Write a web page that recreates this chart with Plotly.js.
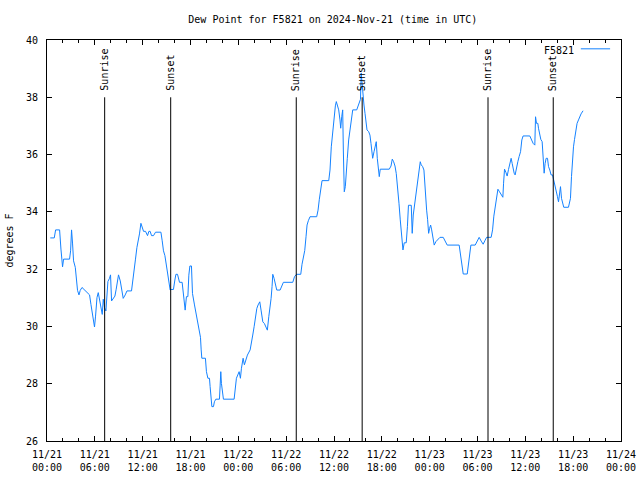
<!DOCTYPE html>
<html>
<head>
<meta charset="utf-8">
<script src="https://cdn.plot.ly/plotly-3.0.1.min.js"></script>
<style>html,body{margin:0;padding:0;background:#fff;}#chart{width:640px;height:480px;}</style>
</head>
<body>
<div id="chart"></div>
<script>
// Hours since 2024-11-21 00:00 UTC
const hours = [0.41,0.91,1.08,1.58,1.75,1.83,1.95,2.08,2.83,2.96,3.08,3.21,3.33,3.55,3.67,3.83,4.01,4.17,4.39,4.80,
5.34,5.51,5.68,5.84,5.96,6.09,6.27,6.43,6.59,6.77,6.93,7.06,7.22,7.39,7.52,7.64,7.84,7.97,8.10,8.27,
8.52,8.68,8.85,8.97,9.19,9.35,9.56,9.81,10.03,10.60,10.78,10.94,11.10,11.28,11.44,11.60,11.78,11.94,12.11,12.36,
12.61,12.78,12.94,13.11,13.36,13.61,14.29,14.45,14.61,14.79,14.95,15.11,15.29,15.45,15.54,15.86,16.04,16.17,16.37,16.62,
16.95,17.12,17.33,17.49,17.67,17.79,17.92,18.12,18.25,18.50,18.71,18.92,19.12,19.25,19.34,19.42,19.87,20.00,20.18,20.38,
20.46,20.59,20.68,20.88,21.00,21.18,21.63,21.72,21.80,21.88,22.01,22.13,23.47,23.60,23.76,24.10,24.26,24.39,24.60,24.76,
24.97,25.14,25.48,25.64,25.81,25.98,26.14,26.32,26.48,26.69,26.85,27.07,27.27,27.48,27.64,27.82,27.98,28.11,28.23,28.32,
28.48,28.65,28.82,29.24,29.45,29.65,30.83,31.05,31.30,31.83,31.99,32.16,32.33,32.49,32.62,32.78,32.99,33.83,34.00,34.16,
34.34,34.50,35.34,35.50,35.66,35.84,36.00,36.17,36.29,36.42,36.59,36.75,36.84,36.97,37.09,37.17,37.29,37.42,37.54,37.67,
37.84,38.01,38.17,38.35,38.85,39.01,39.17,39.32,39.41,39.60,39.76,39.89,40.01,40.14,40.35,40.51,40.64,40.76,40.85,41.02,
41.18,41.30,41.43,41.55,41.68,41.80,42.93,43.15,43.31,43.48,43.65,43.81,43.98,44.15,44.31,44.49,44.65,44.81,45.06,45.21,
45.34,45.69,45.81,45.94,46.07,46.19,46.32,46.44,46.57,46.69,46.82,46.94,47.12,47.28,47.44,47.62,47.74,47.87,47.99,48.12,
48.25,48.37,48.57,48.78,49.04,49.29,49.70,49.91,50.20,51.70,51.88,52.04,52.21,52.71,52.83,53.01,53.17,53.71,53.96,54.21,
54.46,54.71,54.92,55.14,55.71,55.89,56.05,56.22,56.39,56.56,56.72,56.89,57.06,57.18,57.27,57.39,57.56,57.72,57.89,58.06,
58.22,58.35,58.47,58.60,58.72,58.90,59.06,59.22,59.40,59.56,59.72,60.56,60.73,60.98,61.19,61.28,61.40,61.57,61.65,61.78,
61.94,62.11,62.19,62.28,62.36,62.48,62.61,62.78,62.91,63.07,63.23,63.41,63.57,63.73,63.91,64.03,64.16,64.29,64.41,64.54,
64.66,64.82,65.41,65.54,65.66,65.79,65.91,66.04,66.17,66.33,66.49,66.67,66.83,66.99,67.24];

const dewPoint = [33.09,33.09,33.37,33.37,32.70,32.29,32.08,32.35,32.35,32.64,33.37,32.88,32.29,32.06,31.59,31.26,31.10,31.26,31.36,31.24,
31.10,30.77,30.42,30.09,29.98,30.36,31.01,31.18,30.89,30.63,30.42,30.95,30.65,30.54,31.01,31.57,31.68,31.80,30.89,30.95,
31.06,31.30,31.59,31.80,31.59,31.24,30.98,31.10,31.24,31.24,31.71,32.06,32.35,32.76,32.94,33.23,33.60,33.46,33.32,33.32,
33.17,33.32,33.32,33.17,33.17,33.29,33.29,32.99,32.64,32.47,32.18,31.85,31.53,31.27,31.29,31.29,31.62,31.82,31.82,31.54,
31.54,31.04,30.57,31.04,31.04,31.79,32.11,32.11,31.15,30.75,30.46,30.16,29.93,29.62,29.18,28.89,28.89,28.42,28.19,28.19,
27.90,27.43,27.20,27.20,27.37,27.46,27.46,27.95,28.42,28.01,27.60,27.46,27.46,27.72,28.19,28.42,28.19,28.54,28.89,28.66,
28.89,29.00,29.18,29.52,29.70,29.99,30.34,30.63,30.75,30.86,30.57,30.16,30.10,29.97,29.87,30.34,30.63,30.98,31.39,31.82,
31.68,31.50,31.27,31.27,31.41,31.54,31.54,31.74,31.82,31.82,32.17,32.45,32.65,33.13,33.54,33.69,33.83,33.83,34.06,34.44,
34.76,35.09,35.09,35.46,36.27,36.88,37.44,37.70,37.85,37.70,37.56,37.21,36.92,37.32,37.56,36.16,34.70,34.88,35.23,35.87,
36.51,36.83,37.15,37.56,37.56,37.70,37.85,37.93,38.85,38.14,37.73,37.44,37.09,36.86,36.80,36.68,36.39,36.16,35.87,36.10,
36.27,36.45,35.87,35.46,35.23,35.49,35.49,35.60,35.84,35.75,35.60,35.34,34.88,34.30,33.72,33.25,32.67,32.92,32.92,33.48,
34.23,34.23,33.25,33.89,34.18,34.47,34.65,35.00,35.35,35.64,35.75,35.64,35.58,35.46,34.65,34.06,33.74,33.25,33.42,33.54,
33.37,33.13,32.84,32.96,33.04,33.11,33.11,32.99,32.84,32.84,32.43,32.14,31.83,31.83,32.14,32.43,32.84,32.84,32.96,33.11,
32.98,32.87,32.99,33.11,33.11,33.37,33.85,34.20,34.50,34.79,34.72,34.65,34.59,34.51,35.00,35.49,35.38,35.25,35.48,35.65,
35.87,35.69,35.46,35.35,35.29,35.58,35.75,35.93,36.10,36.51,36.65,36.65,36.53,36.39,36.33,37.32,37.09,37.09,36.92,36.76,
36.53,36.45,36.16,35.81,35.35,35.69,35.87,35.87,35.58,35.46,35.29,35.29,35.11,34.88,34.76,34.53,34.35,34.70,34.88,34.47,
34.30,34.16,34.16,34.30,34.47,35.23,35.98,36.27,36.53,36.83,37.09,37.21,37.32,37.42,37.53];

const sunriseTimes = ["2024-11-21 07:14", "2024-11-22 07:16", "2024-11-23 07:19"];
const sunsetTimes  = ["2024-11-21 15:31", "2024-11-22 15:32", "2024-11-23 15:30"];
const stationName = "F5821";
const titleText = "Dew Point for F5821 on 2024-Nov-21 (time in UTC)";

const BASE = Date.UTC(2024, 10, 21, 0, 0, 0);
function pad(n){return (n<10?'0':'')+n;}
function toStr(ms){
  const d = new Date(ms);
  return d.getUTCFullYear()+'-'+pad(d.getUTCMonth()+1)+'-'+pad(d.getUTCDate())+' '+pad(d.getUTCHours())+':'+pad(d.getUTCMinutes())+':'+pad(d.getUTCSeconds());
}
const times = hours.map(h => toStr(BASE + Math.round(h*3600000)));

const FONT = "DejaVu Sans Mono, monospace";
const LINE_COLOR = "rgb(20,130,255)";

const shapes = [];
const annotations = [];
function addEvent(t, label){
  shapes.push({type:'line', xref:'x', yref:'y', x0:t, x1:t, y0:26, y1:38, line:{color:'black', width:1}});
  annotations.push({x:t, y:38.15, xref:'x', yref:'y', text:label, textangle:-90, showarrow:false,
    xanchor:'center', yanchor:'bottom', font:{family:FONT, size:10, color:'black'}});
}
sunriseTimes.forEach(t => addEvent(t, 'Sunrise'));
sunsetTimes.forEach(t => addEvent(t, 'Sunset'));

// legend (text then line sample, gnuplot style)
annotations.push({xref:'paper', yref:'paper', x:0.921, y:0.973, text:stationName, showarrow:false,
  xanchor:'right', yanchor:'middle', font:{family:FONT, size:10, color:'black'}});
shapes.push({type:'line', xref:'paper', yref:'paper', x0:0.930, x1:0.981, y0:0.978, y1:0.978, line:{color:LINE_COLOR, width:1}});

const trace = {
  x: times, y: dewPoint, type:'scatter', mode:'lines', name: stationName,
  line:{color:LINE_COLOR, width:1}, showlegend:false
};

const layout = {
  width:640, height:480,
  margin:{l:47, r:19, t:40, b:39},
  paper_bgcolor:'white', plot_bgcolor:'white',
  showlegend:false,
  title:{text:titleText, font:{family:FONT, size:10, color:'black'}, x:0.52, xanchor:'center', y:0.959, yanchor:'middle', yref:'container'},
  font:{family:FONT, size:10, color:'black'},
  xaxis:{
    type:'date', range:['2024-11-21 00:00','2024-11-24 00:00'],
    tick0:'2024-11-21 00:00', dtick:6*3600000, tickformat:'%m/%d<br>%H:%M',
    ticks:'inside', ticklen:5, tickcolor:'black', tickwidth:1, ticklabelstandoff:4,
    minor:{dtick:2*3600000, ticks:'inside', ticklen:3, tickcolor:'black', showgrid:false},
    showline:true, linecolor:'black', linewidth:1, mirror:'ticks',
    showgrid:false, zeroline:false,
    tickfont:{family:FONT, size:10, color:'black'}
  },
  yaxis:{
    range:[26,40], dtick:2, tick0:26,
    ticks:'inside', ticklen:5, tickcolor:'black', tickwidth:1, ticklabelstandoff:6,
    showline:true, linecolor:'black', linewidth:1, mirror:'ticks',
    showgrid:false, zeroline:false,
    tickfont:{family:FONT, size:10, color:'black'},
    title:{text:'degrees F', font:{family:FONT, size:10, color:'black'}, standoff:10}
  },
  shapes: shapes,
  annotations: annotations
};

Plotly.newPlot('chart', [trace], layout, {staticPlot:true, displayModeBar:false});
</script>
</body>
</html>
